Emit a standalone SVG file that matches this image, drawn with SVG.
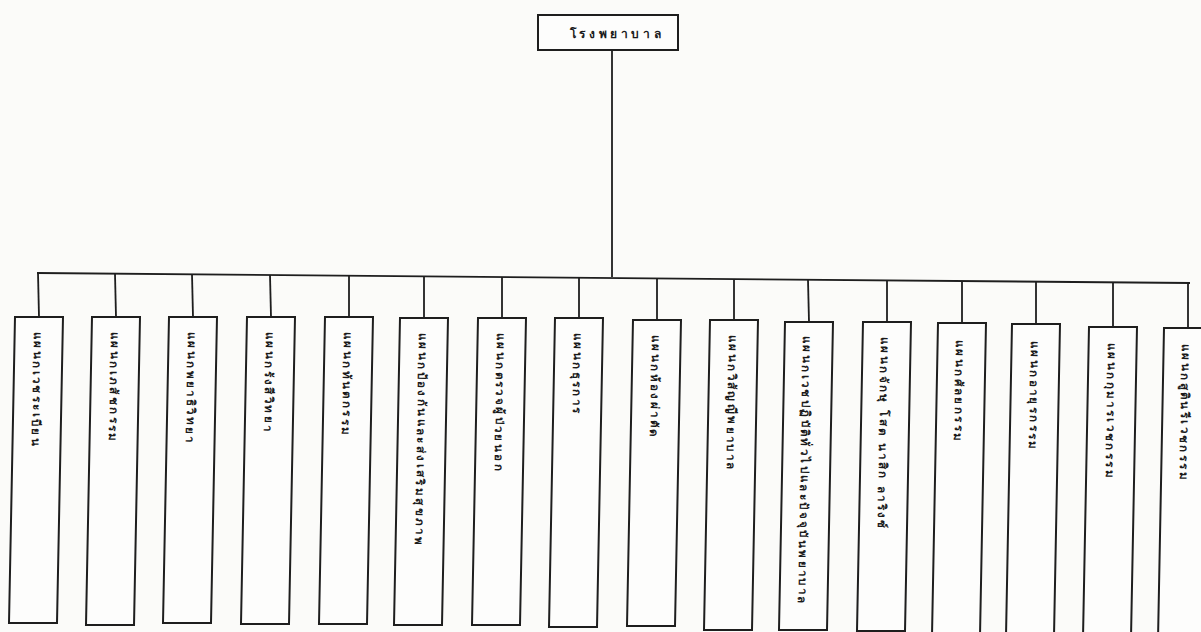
<svg xmlns="http://www.w3.org/2000/svg" width="1201" height="632" viewBox="0 0 1201 632">
<style>
.bg{fill:#fbfbf9}
.box{fill:#fdfdfc;stroke:#1e1e1e;stroke-width:2}
.ln{fill:none;stroke:#1e1e1e;stroke-width:1.8}
.t{font-family:"Noto Sans","DejaVu Sans",sans-serif;font-size:11.5px;font-weight:bold;fill:#1a1a1a;letter-spacing:2.4px}
.tt{font-family:"Noto Sans","DejaVu Sans",sans-serif;font-size:12px;font-weight:bold;fill:#1a1a1a;letter-spacing:3.6px}
</style>
<rect class="bg" x="0" y="0" width="1201" height="632"/>
<g id="connectors">
<path class="ln" d="M612,50 L612,277"/>
<path class="ln" d="M37,273 L1190,283"/>
<path class="ln" d="M38,273 L39,317"/>
<path class="ln" d="M115,274 L116,317"/>
<path class="ln" d="M192,274 L193,317"/>
<path class="ln" d="M270,275 L271,317"/>
<path class="ln" d="M349,276 L349,317"/>
<path class="ln" d="M424,276 L424,318"/>
<path class="ln" d="M502,277 L502,318"/>
<path class="ln" d="M579,278 L579,318"/>
<path class="ln" d="M657,278 L657,320"/>
<path class="ln" d="M734,279 L734,320"/>
<path class="ln" d="M808,280 L809,322"/>
<path class="ln" d="M887,280 L887,322"/>
<path class="ln" d="M962,281 L962,323"/>
<path class="ln" d="M1036,282 L1036,324"/>
<path class="ln" d="M1113,282 L1113,327"/>
<path class="ln" d="M1188,283 L1188,328"/>
</g>
<g id="n0">
<rect class="box" x="538" y="15" width="140" height="35"/>
<text class="tt" x="617" y="38" text-anchor="middle">โรงพยาบาล</text>
</g>
<g id="n1"><path class="box" d="M15,317 L63,317 L57,623 L9,623 Z"/><text class="t" transform="translate(34,332) rotate(91)">แผนกเวชระเบียน</text></g>
<g id="n2"><path class="box" d="M92,317 L140,317 L134,625 L86,625 Z"/><text class="t" transform="translate(111,332) rotate(91)">แผนกเภสัชกรรม</text></g>
<g id="n3"><path class="box" d="M169,317 L217,317 L211,623 L163,623 Z"/><text class="t" transform="translate(188,332) rotate(91)">แผนกพยาธิวิทยา</text></g>
<g id="n4"><path class="box" d="M247,317 L295,317 L289,624 L241,624 Z"/><text class="t" transform="translate(266,332) rotate(91)">แผนกรังสีวิทยา</text></g>
<g id="n5"><path class="box" d="M325,317 L373,317 L367,624 L319,624 Z"/><text class="t" transform="translate(344,332) rotate(91)">แผนกทันตกรรม</text></g>
<g id="n6"><path class="box" d="M400,318 L448,318 L442,625 L394,625 Z"/><text class="t" transform="translate(419,333) rotate(91)">แผนกป้องกันและส่งเสริมสุขภาพ</text></g>
<g id="n7"><path class="box" d="M478,318 L526,318 L520,625 L472,625 Z"/><text class="t" transform="translate(497,333) rotate(91)">แผนกตรวจผู้ป่วยนอก</text></g>
<g id="n8"><path class="box" d="M555,318 L603,318 L597,627 L549,627 Z"/><text class="t" transform="translate(574,333) rotate(91)">แผนกธุรการ</text></g>
<g id="n9"><path class="box" d="M633,320 L681,320 L675,626 L627,626 Z"/><text class="t" transform="translate(652,335) rotate(91)">แผนกห้องผ่าตัด</text></g>
<g id="n10"><path class="box" d="M710,320 L758,320 L752,630 L704,630 Z"/><text class="t" transform="translate(729,335) rotate(91)">แผนกวิสัญญีพยาบาล</text></g>
<g id="n11"><path class="box" d="M785,322 L833,322 L827,630 L779,630 Z"/><text class="t" transform="translate(803,336) rotate(91)">แผนกเวชปฏิบัติทั่วไปและปัจจุบันพยาบาล</text></g>
<g id="n12"><path class="box" d="M863,322 L911,322 L905,631 L857,631 Z"/><text class="t" transform="translate(881,337) rotate(91)">แผนกจักษุ โสต นาสิก ลาริงซ์</text></g>
<g id="n13"><path class="box" d="M938,323 L986,323 L980,636 L932,636 Z"/><text class="t" transform="translate(956,340) rotate(91)">แผนกศัลยกรรม</text></g>
<g id="n14"><path class="box" d="M1012,324 L1060,324 L1054,636 L1006,636 Z"/><text class="t" transform="translate(1031,341) rotate(91)">แผนกอายุรกรรม</text></g>
<g id="n15"><path class="box" d="M1089,327 L1137,327 L1131,638 L1083,638 Z"/><text class="t" transform="translate(1108,343) rotate(91)">แผนกกุมารเวชกรรม</text></g>
<g id="n16"><path class="box" d="M1164,328 L1212,328 L1206,640 L1158,640 Z"/><text class="t" transform="translate(1182,344) rotate(91)">แผนกสูตินรีเวชกรรม</text></g>
</svg>
